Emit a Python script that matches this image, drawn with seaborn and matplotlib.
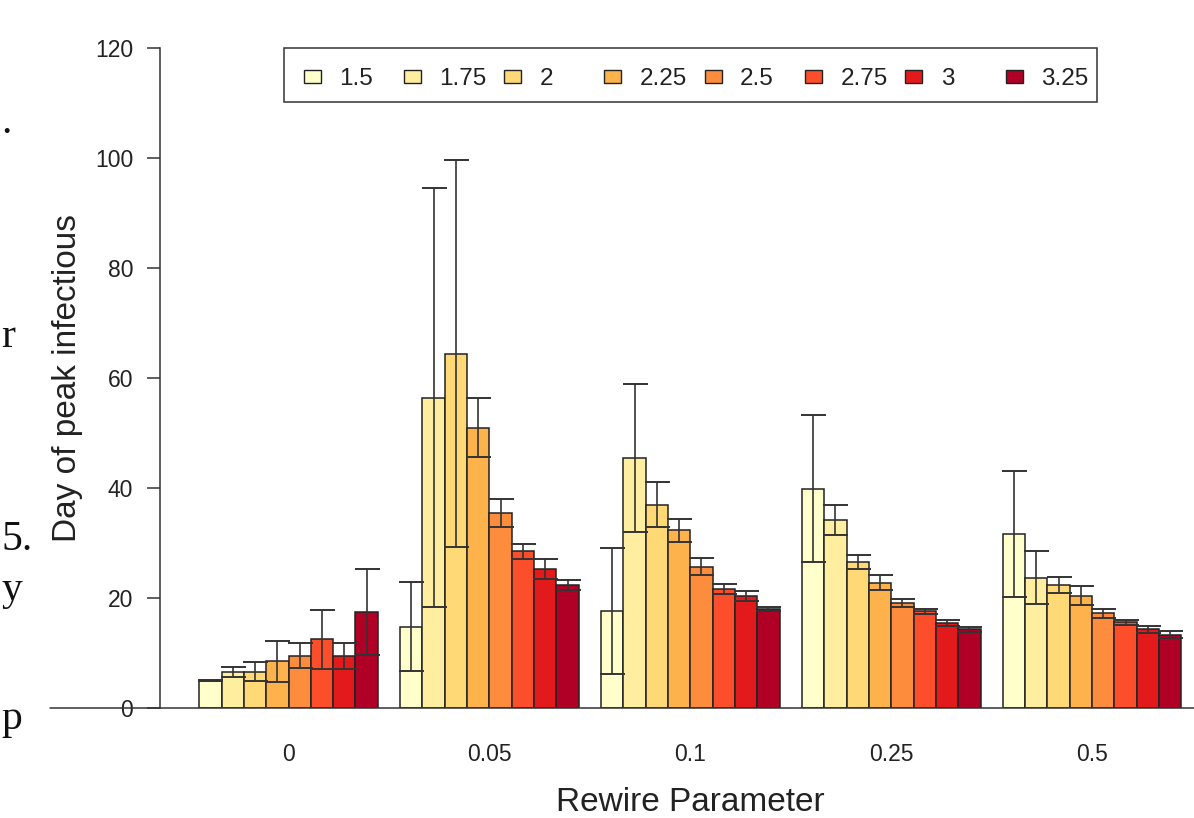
import numpy as np
import pandas as pd
import matplotlib
matplotlib.use("Agg")
import matplotlib.pyplot as plt
import seaborn as sns
from matplotlib.patches import Rectangle
from matplotlib.transforms import Affine2D
from matplotlib.container import BarContainer

# ---------------- data ----------------
rewire_labels = ["0", "0.05", "0.1", "0.25", "0.5"]
r0_labels = ["1.5", "1.75", "2", "2.25", "2.5", "2.75", "3", "3.25"]
colors = ["#FFFFCC", "#FFEDA0", "#FED976", "#FEB24C",
          "#FD8D3C", "#FC4E2A", "#E31A1C", "#B10026"]

mean_r000 = [5.0, 6.6, 6.6, 8.5, 9.5, 12.5, 9.5, 17.5]
err_r000 = [0.12, 0.9, 1.7, 3.7, 2.3, 5.4, 2.4, 7.8]
mean_r005 = [14.8, 56.4, 64.4, 51.0, 35.5, 28.5, 25.3, 22.4]
err_r005 = [8.05, 38.1, 35.2, 5.45, 2.5, 1.4, 1.8, 0.9]
mean_r010 = [17.6, 45.5, 37.0, 32.3, 25.7, 21.6, 20.3, 17.95]
err_r010 = [11.5, 13.5, 4.1, 2.15, 1.6, 0.9, 0.9, 0.35]
mean_r025 = [39.9, 34.2, 26.6, 22.8, 19.1, 17.6, 15.5, 14.3]
err_r025 = [13.4, 2.7, 1.3, 1.4, 0.75, 0.45, 0.5, 0.5]
mean_r050 = [31.6, 23.7, 22.4, 20.4, 17.2, 15.55, 14.3, 13.35]
err_r050 = [11.45, 4.8, 1.5, 1.75, 0.85, 0.5, 0.7, 0.65]

y_ticks = [0, 20, 40, 60, 80, 100, 120]

means = [mean_r000, mean_r005, mean_r010, mean_r025, mean_r050]
errs = [err_r000, err_r005, err_r010, err_r025, err_r050]

# ---------------- style ----------------
sns.set_theme(style="white")
plt.rcParams["font.family"] = ["Liberation Sans", "DejaVu Sans"]
TXT = "#222222"
LINE = "#333333"

df = pd.DataFrame({
    "rewire": np.repeat(rewire_labels, len(r0_labels)),
    "R0": r0_labels * len(rewire_labels),
    "day": np.concatenate(means),
})

W, H = 1194, 818
fig = plt.figure(figsize=(W / 100, H / 100), dpi=100)
ax = fig.add_axes([160 / W, 110 / H, 1034 / W, 660 / H])

sns.barplot(data=df, x="rewire", y="day", hue="R0",
            order=rewire_labels, hue_order=r0_labels,
            palette=colors, saturation=1, width=8 / 9, gap=0,
            dodge=True, errorbar=None, edgecolor="#222222",
            linewidth=1.1, legend=False, ax=ax)

# error bars placed on the bars seaborn drew
bar_conts = [c for c in ax.containers if isinstance(c, BarContainer)]
for hi, cont in enumerate(bar_conts):
    xs, ys, es = [], [], []
    for bar in cont:
        xc = bar.get_x() + bar.get_width() / 2
        ci = int(round(xc))
        xs.append(xc)
        ys.append(means[ci][hi])
        es.append(errs[ci][hi])
    ax.errorbar(xs, ys, yerr=es, fmt="none", ecolor=LINE,
                elinewidth=1.2, capsize=9, capthick=1.4, zorder=3)

ax.set_xlim(-0.6396, 4.507)
ax.set_ylim(0, 120)
ax.set_yticks(y_ticks)
ax.set_yticklabels([str(t) for t in y_ticks])

for s in ["top", "right", "bottom"]:
    ax.spines[s].set_visible(False)
ax.spines["left"].set_visible(True)
ax.spines["left"].set_color(LINE)
ax.spines["left"].set_linewidth(1.1)
ax.spines["left"].set_bounds(0, 120)

ax.tick_params(axis="y", length=9.4, width=1.1, color=LINE,
               labelsize=16.5, labelcolor=TXT, pad=10, left=True)
ax.tick_params(axis="x", length=0, labelsize=16.5, labelcolor=TXT, pad=25)

# horizontal baseline extending left past the y axis
ax.plot([-0.106, 1.0], [0, 0], transform=ax.get_yaxis_transform(),
        color=LINE, lw=1.1, clip_on=False, zorder=4)

ax.set_xlabel("Rewire Parameter", fontsize=24, color=TXT)
ax.xaxis.set_label_coords(0.5126, -0.12)
ax.set_ylabel("Day of peak infectious", fontsize=24, color=TXT)
ax.yaxis.set_label_coords(-0.074, 0.5)

# ---------------- legend (single row, evenly spaced) ----------------
px = Affine2D().scale(1 / W, -1 / H).translate(0, 1) + fig.transFigure
fig.add_artist(Rectangle((284, 48), 813, 54, transform=px, fill=False,
                         ec=LINE, lw=1.1))
for i, (lab, col) in enumerate(zip(r0_labels, colors)):
    cx = 312 + 100.3 * i
    fig.add_artist(Rectangle((cx - 8.5, 69.5), 17, 13, transform=px,
                             fc=col, ec="#222222", lw=1.0))
    fig.text(339 + 100.3 * i, 85, lab, transform=px, ha="left",
             va="baseline", fontsize=17.5, color=TXT)

# ---------------- page text fragments at left edge ----------------
serif = ["Liberation Serif", "DejaVu Serif"]
for s, xl, yb in [(".", 1, 133), ("r", 1, 347), ("5.", 1, 550),
                  ("y", 1, 600), ("p", 1, 729)]:
    fig.text(xl, yb, s, transform=px, ha="left", va="baseline",
             fontsize=30, family=serif, color="#111111")

fig.savefig("out.png", dpi=100)
